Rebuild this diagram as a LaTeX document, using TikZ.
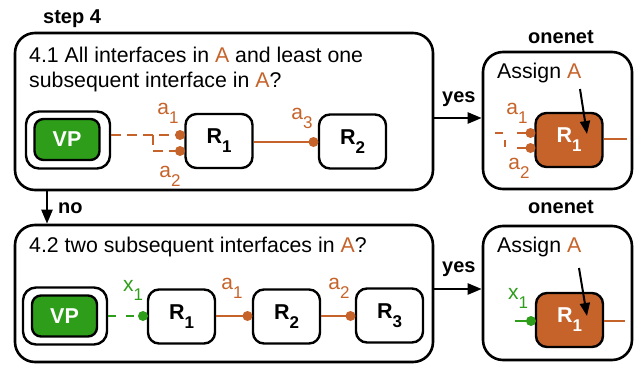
\documentclass[tikz,border=0pt]{standalone}
\usepackage{fontspec}
\setmainfont{Liberation Sans}
\usetikzlibrary{arrows.meta,calc}
\definecolor{orng}{RGB}{197,99,42}
\definecolor{grn}{RGB}{46,158,26}
\newcommand\lsub[1]{\raisebox{-9pt}{\fontsize{17}{17}\selectfont#1}}
\begin{document}
\begin{tikzpicture}[x=1pt,y=-1pt,
  bigbox/.style={draw, line width=2.6pt, rounded corners=20pt, inner sep=0},
  rbox/.style={draw, line width=2.4pt, rounded corners=11pt, minimum width=67pt, minimum height=54pt, inner sep=0, font=\fontsize{21.5}{21.5}\selectfont\bfseries},
  vpout/.style={draw, line width=2.4pt, rounded corners=13pt, minimum width=84pt, minimum height=57pt, inner sep=0},
  vpin/.style={draw, fill=grn, line width=2.4pt, rounded corners=9pt, minimum width=65pt, minimum height=41pt, inner sep=0, text=white, font=\fontsize{21.5}{21.5}\selectfont\bfseries},
  txt/.style={inner sep=0, font=\fontsize{21.3}{25}\selectfont},
  blab/.style={inner sep=0, font=\fontsize{20}{20}\selectfont\bfseries},
  olab/.style={inner sep=0, text=orng, font=\fontsize{21}{21}\selectfont},
  glab/.style={inner sep=0, text=grn, font=\fontsize{21}{21}\selectfont},
  dot/.style={circle, fill=orng, inner sep=0, minimum size=10pt},
  gdot/.style={circle, fill=grn, inner sep=0, minimum size=10pt},
  oline/.style={draw=orng, line width=2.4pt},
  odash/.style={draw=orng, line width=2.4pt, dash pattern=on 10pt off 6pt},
  gline/.style={draw=grn, line width=2.4pt},
  gdash/.style={draw=grn, line width=2.4pt, dash pattern=on 8pt off 10pt},
  barr/.style={draw, line width=2.4pt, -{Triangle[length=14pt,width=11pt]}},
  sarr/.style={draw, line width=2pt, -{Triangle[length=13pt,width=10pt]}}
]
\useasboundingbox (0,0) rectangle (641,367);

% ---------- labels ----------
\node[blab, anchor=base west] (step) at (43,23) {step 4};
\node[blab, anchor=base west] (on1) at (528,43) {onenet};
\node[blab, anchor=base west] (on2) at (528,213) {onenet};

% ---------- big boxes ----------
\node[bigbox, minimum width=418pt, minimum height=157pt] (b1) at (224,111.5) {};
\node[bigbox, minimum width=418pt, minimum height=137pt] (b2) at (224,293.5) {};
\node[bigbox, minimum width=149pt, minimum height=137pt] (o1) at (557.5,120.5) {};
\node[bigbox, minimum width=149pt, minimum height=134pt] (o2) at (557.5,293) {};

% ---------- box 4.1 ----------
\node[txt, anchor=base west] (t1) at (29,62) {4.1 All interfaces in \textcolor{orng}{A} and least one};
\node[txt, anchor=base west] (t2) at (29,87) {subsequent interface in \textcolor{orng}{A}?};
\node[vpout] (vp1o) at (68,140) {};
\node[vpin] (vp1) at (67,139.5) {VP};
\node[rbox] (r11) at (219,141) {R\lsub{1}};
\node[rbox] (r12) at (352.5,141.5) {R\lsub{2}};
\node[dot] (a1d) at (180,135) {};
\node[dot] (a2d) at (180,151) {};
\node[dot] (a3d) at (313.5,142) {};
\coordinate (br) at (153,135);
\draw[odash] (vp1o.east |- a1d) -- (a1d.center);
\draw[odash] (br) |- (a2d.center);
\draw[oline] (r11.east |- a3d) -- (a3d.center);
\node[olab] (la1) at (168,113) {a\lsub{1}};
\node[olab] (la2) at (170,176) {a\lsub{2}};
\node[olab] (la3) at (302,118) {a\lsub{3}};

% ---------- box 4.2 ----------
\node[txt, anchor=base west] (t3) at (29,252) {4.2 two subsequent interfaces in \textcolor{orng}{A}?};
\node[vpout] (vp2o) at (65,316) {};
\node[vpin] (vp2) at (64.5,316) {VP};
\node[rbox] (r21) at (181.5,316.5) {R\lsub{1}};
\node[rbox] (r22) at (286.5,316.5) {R\lsub{2}};
\node[rbox] (r23) at (389.5,315.5) {R\lsub{3}};
\node[gdot] (x1d) at (143,316) {};
\node[dot] (b1d) at (247.5,316) {};
\node[dot] (b2d) at (350.5,316) {};
\draw[gdash] (vp2o.east |- x1d) -- (x1d.center);
\draw[oline] (r21.east |- b1d) -- (b1d.center);
\draw[oline] (r22.east |- b2d) -- (b2d.center);
\node[glab] (lx1) at (133,290) {x\lsub{1}};
\node[olab] (lb1) at (232,288) {a\lsub{1}};
\node[olab] (lb2) at (339,288) {a\lsub{2}};

% ---------- onenet 1 ----------
\node[txt, anchor=base west] (as1) at (497,78) {Assign \textcolor{orng}{A}};
\node[rbox, fill=orng, text=white] (c1) at (569,140) {R\lsub{1}};
\coordinate (c1e) at (627,139);
\draw[oline] (c1.east |- c1e) -- (c1e);
\node[dot] (c1a) at (530.5,133) {};
\node[dot] (c1b) at (530.5,148) {};
\coordinate (s1) at (495,133);
\coordinate (s2) at (503,133);
\coordinate (s3) at (517,133);
\coordinate (s4) at (505,140);
\coordinate (s5) at (505,147);
\coordinate (s6) at (517,148);
\draw[oline] (s1) -- (s2);
\draw[oline] (s3) -- (c1a.center);
\draw[oline] (s4) -- (s5);
\draw[oline] (s6) -- (c1b.center);
\node[olab] (lc1) at (517,113) {a\lsub{1}};
\node[olab] (lc2) at (519,168) {a\lsub{2}};
\coordinate (p1) at (580,89);
\coordinate (p2) at (587,134);
\draw[sarr] (p1) -- (p2);

% ---------- onenet 2 ----------
\node[txt, anchor=base west] (as2) at (497,252) {Assign \textcolor{orng}{A}};
\node[rbox, fill=orng, text=white] (c2) at (569.5,320) {R\lsub{1}};
\coordinate (c2e) at (625,321);
\draw[oline] (c2.east |- c2e) -- (c2e);
\node[gdot] (c2x) at (531,321) {};
\coordinate (g1) at (515,321);
\draw[gline] (g1) -- (c2x.center);
\node[glab] (lc3) at (518,298) {x\lsub{1}};
\coordinate (q1) at (579,268);
\coordinate (q2) at (587,316);
\draw[sarr] (q1) -- (q2);

% ---------- decisions ----------
\coordinate (y1) at ([yshift=-6.5pt]b1.east);
\draw[barr] (y1) -- (y1 -| o1.west);
\node[blab, anchor=base west] (yes1) at (442,102) {yes};
\coordinate (y2) at ([yshift=4.5pt]b2.east);
\draw[barr] (y2) -- (y2 -| o2.west);
\node[blab, anchor=base west] (yes2) at (442,272) {yes};
\coordinate (n1) at (47,190);
\draw[barr] (n1) -- (n1 |- b2.north);
\node[blab, anchor=base west] (no) at (58,213) {no};
\end{tikzpicture}
\end{document}
